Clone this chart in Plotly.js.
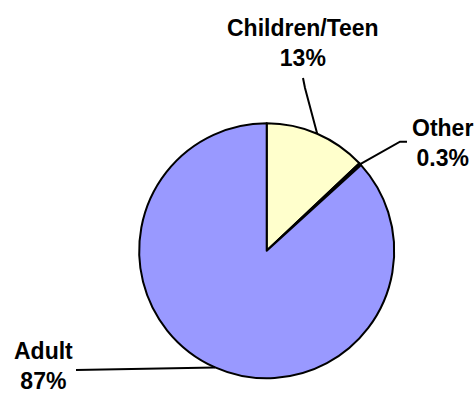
<!DOCTYPE html>
<html>
<head>
<meta charset="utf-8">
<script src="https://cdn.plot.ly/plotly-3.0.1.min.js"></script>
<style>html,body{margin:0;padding:0;background:#fff;}#chart{width:476px;height:395px;}</style>
</head>
<body>
<div id="chart"></div>
<script>
// ---- data ----
var categories = ["Children/Teen", "Other", "Adult"];
var values = [13, 0.3, 87];
var percentLabels = ["13%", "0.3%", "87%"];
var sliceColors = ["#FFFFCC", "#000000", "#9999FF"];

// ---- layout constants (pixels) ----
var W = 476, H = 395;
var cx = 266.7, cy = 250.8, R = 127.5;
// label positions (text centre) and leader line bends, per category
var labelPos = [[303, 43], [442, 143], [43, 366]];
var leaderBends = [
  [[305, 88], [303, 78]],
  [[400, 141.7], [407, 141.7]],
  [[76, 370]]
];

function px2x(p) { return p / W; }
function py2y(p) { return 1 - p / H; }

var total = values.reduce(function (a, b) { return a + b; }, 0);
var shapes = [], annotations = [];
var cum = 0;
for (var i = 0; i < values.length; i++) {
  var mid = (cum + values[i] / 2) / total * 2 * Math.PI;
  cum += values[i];
  var ex = cx + R * Math.sin(mid), ey = cy - R * Math.cos(mid);
  var path = "M" + px2x(ex) + "," + py2y(ey);
  leaderBends[i].forEach(function (p) { path += " L" + px2x(p[0]) + "," + py2y(p[1]); });
  shapes.push({type: "path", xref: "paper", yref: "paper", path: path,
               line: {color: "#000", width: 2}});
  annotations.push({
    xref: "paper", yref: "paper",
    x: px2x(labelPos[i][0]), y: py2y(labelPos[i][1]),
    xanchor: "center", yanchor: "middle",
    text: "<b>" + categories[i] + "<br>" + percentLabels[i] + "</b>",
    showarrow: false,
    font: {family: "Liberation Sans, Arial, sans-serif", size: 23, color: "#000"}
  });
}

var trace = {
  type: "pie",
  labels: categories,
  values: values,
  sort: false,
  direction: "clockwise",
  rotation: 0,
  textinfo: "none",
  hoverinfo: "label+percent",
  marker: {colors: sliceColors, line: {color: "#000", width: 2}},
  domain: {x: [px2x(cx - R), px2x(cx + R)], y: [py2y(cy + R), py2y(cy - R)]},
  showlegend: false
};

var layout = {
  width: W, height: H,
  margin: {l: 0, r: 0, t: 0, b: 0},
  paper_bgcolor: "#fff",
  plot_bgcolor: "#fff",
  showlegend: false,
  shapes: shapes,
  annotations: annotations
};

Plotly.newPlot("chart", [trace], layout, {displayModeBar: false, staticPlot: true});
</script>
</body>
</html>
